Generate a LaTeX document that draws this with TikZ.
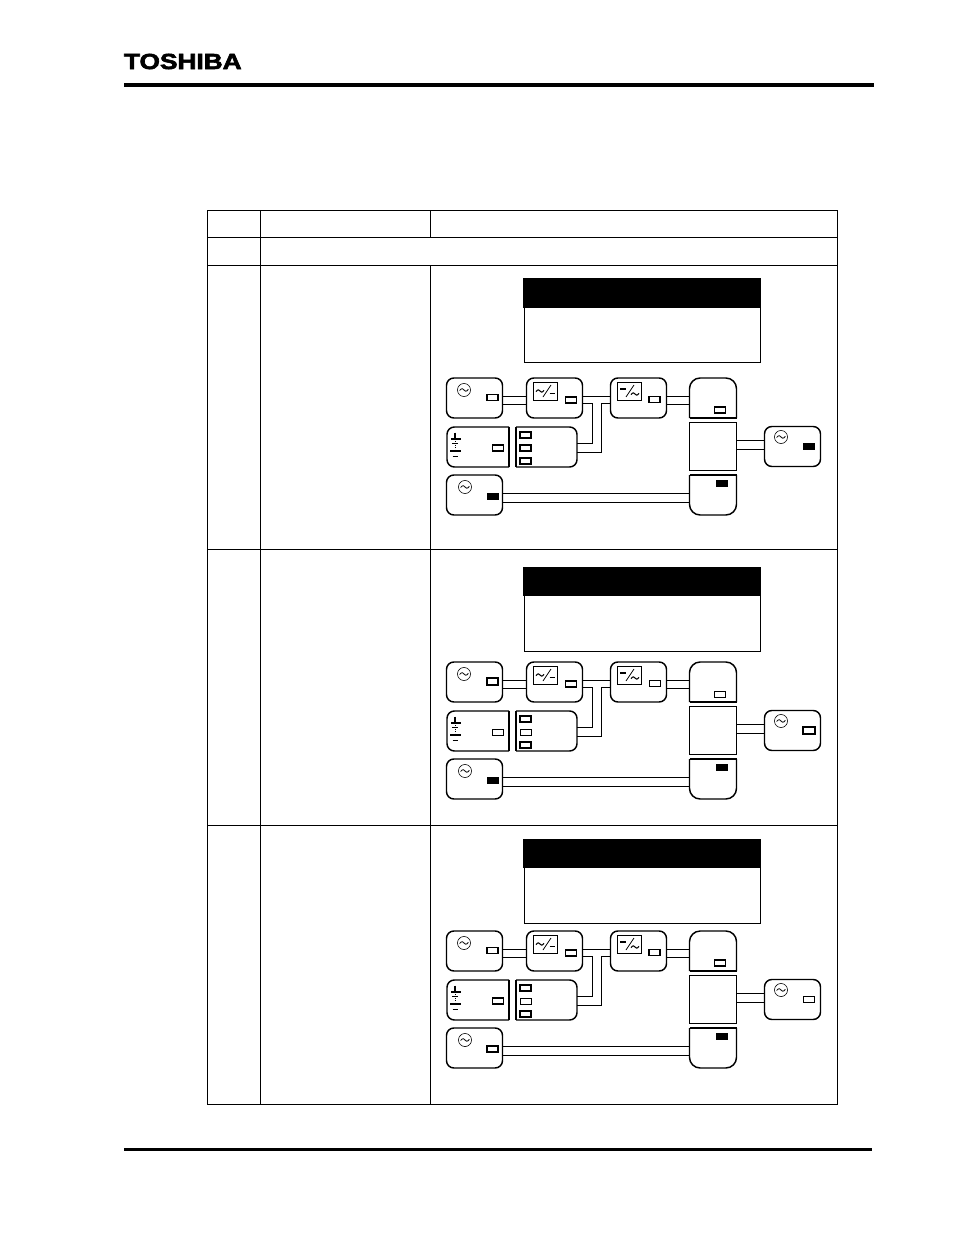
\documentclass[tikz,border=0pt]{standalone}
\usepackage{fontspec}
\newfontfamily\logofont[FakeBold=2.6]{Liberation Sans Bold}
\usetikzlibrary{calc}
\tikzset{
  x=0.75pt,y=-0.75pt,
  unit/.style={draw=black,line width=1.1pt,rounded corners=5.5pt,minimum width=#1*0.75pt,minimum height=30pt,inner sep=0pt,outer sep=0pt,anchor=north west},
  ghost/.style={minimum width=#1*0.75pt,minimum height=30pt,inner sep=0pt,outer sep=0pt,anchor=north west},
  wire/.style={draw=black,line width=0.85pt},
  lamp/.style={draw=black,line width=0.6pt,fill=white,minimum width=8.3pt,minimum height=4.6pt,inner sep=0pt,outer sep=0pt},
  lampT/.style={lamp,line width=1.1pt},
  lampTT/.style={lamp,line width=1.5pt},
  lampF/.style={lamp,fill=black},
  grid/.style={draw=black,line width=0.75pt},
  rulebar/.style={draw=black,line width=2.6pt},
}
% sine-wave source symbol
\newcommand{\acsym}[2]{%
  \draw[line width=0.45pt] (#1,#2) circle[radius=4.9pt];
  \draw[line width=0.6pt] (#1-4.4,#2+0.5) .. controls (#1-2,#2-2.6) and (#1-0.7,#2-1) .. (#1,#2) .. controls (#1+0.7,#2+1) and (#1+2,#2+2.4) .. (#1+4.4,#2-0.6);
}
\newcommand{\wavy}[3]{%
  \draw[line width=#3] (#1-4,#2+0.7) .. controls (#1-2,#2-2.2) and (#1-0.7,#2-1) .. (#1,#2) .. controls (#1+0.7,#2+1) and (#1+2,#2+2.2) .. (#1+4,#2-0.7);
}
% one block diagram: #1 prefix, #2 vertical offset, #3 style of centre square, #4 lamps
\newcommand{\blockdiagram}[4]{%
 \begin{scope}[yshift=-#2*0.75pt]
  \node[unit=56] (#1a) at (446.5,378) {};
  \node[unit=56] (#1b) at (526.5,378) {};
  \node[unit=56] (#1c) at (610.5,378) {};
  \node[ghost=47] (#1d) at (689.5,378) {};
  \draw[line width=1.1pt] (#1d.south west) -- (#1d.south east);
  \draw[line width=1.1pt,rounded corners=8pt] (#1d.south west) -- (#1d.north west) -- (#1d.north east) -- (#1d.south east);
  \node[ghost=62] (#1e) at (447,427) {};
  \draw[line width=1.1pt,rounded corners=5.5pt] (#1e.south east) -- (#1e.south west) -- (#1e.north west) -- (#1e.north east);
  \draw[line width=1.1pt] (#1e.north east) -- (#1e.south east);
  \node[ghost=61] (#1f) at (516,427) {};
  \draw[line width=1.1pt,rounded corners=5.5pt] (#1f.north west) -- (#1f.north east) -- (#1f.south east) -- (#1f.south west);
  \draw[line width=1.1pt] (#1f.north west) -- (#1f.south west);
  \node[draw=black,#3,minimum width=35.2pt,minimum height=36pt,inner sep=0pt,outer sep=0pt,anchor=north west] (#1g) at (689.5,422.5) {};
  \node[unit=56] (#1h) at (764.5,426.5) {};
  \node[unit=56] (#1i) at (446.5,475) {};
  \node[ghost=47] (#1j) at (689.5,475) {};
  \draw[line width=1.1pt] (#1j.north west) -- (#1j.north east);
  \draw[line width=1.1pt,rounded corners=8pt] (#1j.north west) -- (#1j.south west) -- (#1j.south east) -- (#1j.north east);
  % wires
  \draw[wire] ($(#1a.east)+(0,-1.5)$) -- ($(#1b.west)+(0,-1.5)$);
  \draw[wire] ($(#1a.east)+(0,6.5)$) -- ($(#1b.west)+(0,6.5)$);
  \draw[wire] ($(#1b.east)+(0,-1.5)$) -- ($(#1c.west)+(0,-1.5)$);
  \draw[wire] ($(#1b.east)+(0,5.5)$) -- ++(10,0) |- ($(#1f.east)+(0,-3.5)$);
  \draw[wire] ($(#1c.west)+(0,5.5)$) -- ++(-9,0) |- ($(#1f.east)+(0,5.5)$);
  \draw[wire] ($(#1c.east)+(0,-1.5)$) -- ($(#1d.west)+(0,-1.5)$);
  \draw[wire] ($(#1c.east)+(0,6.5)$) -- ($(#1d.west)+(0,6.5)$);
  \draw[wire] ($(#1g.east)+(0,-6)$) -- ($(#1h.west)+(0,-6)$);
  \draw[wire] ($(#1g.east)+(0,3)$) -- ($(#1h.west)+(0,3)$);
  \draw[wire] ($(#1i.east)+(0,-1.5)$) -- ($(#1j.west)+(0,-1.5)$);
  \draw[wire] ($(#1i.east)+(0,7.5)$) -- ($(#1j.west)+(0,7.5)$);
  % symbols
  \acsym{464}{390}
  \acsym{781}{437}
  \acsym{465}{487}
  \draw[line width=0.6pt] (533.5,382) rectangle (557,400);
  \wavy{540}{391}{0.8pt}
  \draw[line width=0.6pt] (543,397) -- (551,385);
  \draw[line width=0.9pt] (549.5,393.5) -- (555,393.5);
  \draw[line width=0.6pt] (617.5,382) rectangle (641.5,400);
  \draw[line width=0.9pt] (620,389) -- (626,389);
  \draw[line width=0.6pt] (626,397) -- (634,385);
  \wavy{635}{394}{0.8pt}
  \draw[line width=0.9pt] (455,432.7) -- (455,439) (451,439) -- (460.5,439);
  \draw[line width=0.6pt,densely dotted] (455,441) -- (455,450);
  \draw[line width=0.7pt] (452,443) -- (458,443);
  \draw[line width=0.9pt] (450,451) -- (460.5,451) (452.5,456.7) -- (457.5,456.7);
  #4
 \end{scope}
}
\begin{document}
\begin{tikzpicture}
\useasboundingbox (0,0) rectangle (954,1235);
\fill[white] (0,0) rectangle (954,1235);
\node[inner sep=0pt,outer sep=0pt,anchor=west,xscale=1.2] (logo) at (124,61.5) {\logofont\fontsize{16.4pt}{17pt}\selectfont TOSHIBA};
\coordinate (ra) at (124,85); \coordinate (rb) at (874,85);
\coordinate (rc) at (124,1149.5); \coordinate (rd) at (872,1149.5);
\draw[rulebar] (ra) -- (rb);
\draw[rulebar] (rc) -- (rd);
% table
\draw[grid] (207.5,210.5) rectangle (837.5,1104.5);
\draw[grid] (260.5,210.5) -- (260.5,1104.5);
\draw[grid] (430.5,210.5) -- (430.5,237.5) (430.5,265.5) -- (430.5,1104.5);
\foreach \yy in {237.5,265.5,549.5,825.5} \draw[grid] (207.5,\yy) -- (837.5,\yy);
% screens
\node[draw=black,line width=0.75pt,minimum width=177pt,minimum height=63pt,inner sep=0pt,outer sep=0pt,anchor=north west] (s1) at (524.5,278.5) {};
\fill[black] (523,278) rectangle (761,307.5);
\node[draw=black,line width=0.75pt,minimum width=177pt,minimum height=63pt,inner sep=0pt,outer sep=0pt,anchor=north west] (s2) at (524.5,567.5) {};
\fill[black] (523,567) rectangle (761,596);
\node[draw=black,line width=0.75pt,minimum width=177pt,minimum height=63pt,inner sep=0pt,outer sep=0pt,anchor=north west] (s3) at (524.5,839) {};
\fill[black] (523,838.5) rectangle (761,868);
% diagrams
\blockdiagram{p}{0}{line width=0.7pt}{
  \node[lampT] (pa1) at (492.5,397.5) {};
  \node[lampT] (pa2) at (571,400) {};
  \node[lampT] (pa3) at (654.5,399.5) {};
  \node[lampT] (pa4) at (720,410) {};
  \node[lampT] (pa5) at (498,448) {};
  \node[lampT] (pa6) at (525.5,435) {};
  \node[lampT] (pa7) at (525.5,448) {};
  \node[lampT] (pa8) at (525.5,461) {};
  \node[lampF] (pa9) at (809,446.5) {};
  \node[lampF] (pa10) at (492.5,496) {};
  \node[lampF] (pa11) at (722,483) {};
}
\blockdiagram{q}{284}{line width=1.1pt}{
  \node[lampTT] (qa1) at (492.5,397.5) {};
  \node[lampT] (qa2) at (571,400) {};
  \node[lamp] (qa3) at (654.5,399.5) {};
  \node[lamp] (qa4) at (720,410) {};
  \node[lamp] (qa5) at (498,448) {};
  \node[lampT] (qa6) at (525.5,435) {};
  \node[lamp] (qa7) at (525.5,448) {};
  \node[lampT] (qa8) at (525.5,461) {};
  \node[lampTT] (qa9) at (809,446.5) {};
  \node[lampF] (qa10) at (492.5,496) {};
  \node[lampF] (qa11) at (722,483) {};
}
\blockdiagram{r}{553}{line width=1.1pt}{
  \node[lampT] (ra1) at (492.5,397.5) {};
  \node[lampT] (ra2) at (571,400) {};
  \node[lampT] (ra3) at (654.5,399.5) {};
  \node[lampT] (ra4) at (720,410) {};
  \node[lampT] (ra5) at (498,448) {};
  \node[lampT] (ra6) at (525.5,435) {};
  \node[lamp] (ra7) at (525.5,448) {};
  \node[lampT] (ra8) at (525.5,461) {};
  \node[lamp] (ra9) at (809,446.5) {};
  \node[lampT] (ra10) at (492.5,496) {};
  \node[lampF] (ra11) at (722,483) {};
}
\end{tikzpicture}
\end{document}
